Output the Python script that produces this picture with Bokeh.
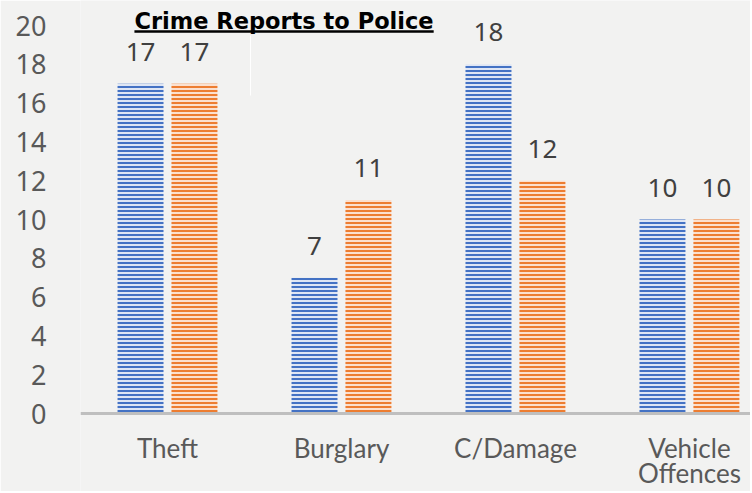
from bokeh.plotting import figure
from bokeh.models import Range1d, FixedTicker, ColumnDataSource
from bokeh.core.properties import value
from bokeh.embed import file_html
from bokeh.resources import INLINE

categories = ["Theft", "Burglary", "C/Damage", "Vehicle"]
category_second_line = ["", "", "", "Offences"]
series_a = [17, 7, 18, 10]
series_b = [17, 11, 12, 10]
y_ticks = [0, 2, 4, 6, 8, 10, 12, 14, 16, 18, 20]
title_text = "Crime Reports to Police"

BG = "#f2f2f1"
GRAY = "#595959"
X_END = 3.851

p = figure(width=750, height=491, output_backend="svg", toolbar_location=None,
           x_range=Range1d(0, X_END), y_range=Range1d(-4.02, 21.289),
           min_border_left=80, min_border_right=0, min_border_top=0, min_border_bottom=0)
p.background_fill_color = BG
p.border_fill_color = BG
p.outline_line_color = None
p.xgrid.visible = False
p.ygrid.visible = False
p.xaxis.visible = False

xs = [i + 0.5 for i in range(len(categories))]
off = 0.155
bw = 0.264
src_a = ColumnDataSource(dict(x=[x - off for x in xs], top=series_a, lab=[str(v) for v in series_a]))
src_b = ColumnDataSource(dict(x=[x + off for x in xs], top=series_b, lab=[str(v) for v in series_b]))

p.vbar(x="x", top="top", width=bw, source=src_a, fill_color="#dfe6f4", line_color=None,
       hatch_pattern="horizontal_line", hatch_color="#4472c4", hatch_scale=4, hatch_weight=2)
p.vbar(x="x", top="top", width=bw, source=src_b, fill_color="#fbe0cf", line_color=None,
       hatch_pattern="horizontal_line", hatch_color="#ed7d31", hatch_scale=4, hatch_weight=2)

for src in (src_a, src_b):
    p.text(x="x", y="top", text="lab", source=src, text_align="center", text_baseline="middle",
           y_offset=-32, text_font=value("Noto Sans"), text_font_size="26px", text_color="#404040")

# manual x axis (line + category labels)
p.segment(x0=[0], y0=[0], x1=[X_END], y1=[0], line_color="#bfbfbf", line_width=3)
cat_src = ColumnDataSource(dict(x=xs, y=[0] * len(xs), l1=categories, l2=category_second_line))
p.text(x="x", y="y", text="l1", source=cat_src, text_align="center", text_baseline="middle",
       y_offset=34, text_font=value("Lato"), text_font_size="26px", text_color=GRAY)
p.text(x="x", y="y", text="l2", source=cat_src, text_align="center", text_baseline="middle",
       y_offset=59, text_font=value("Lato"), text_font_size="26px", text_color=GRAY)

# y axis
p.yaxis.ticker = FixedTicker(ticks=y_ticks)
p.yaxis.axis_line_color = None
p.yaxis.major_tick_line_color = None
p.yaxis.minor_tick_line_color = None
p.yaxis.major_label_text_font = "Noto Sans"
p.yaxis.major_label_text_font_size = "27px"
p.yaxis.major_label_text_color = GRAY
p.yaxis.major_label_standoff = 28

# title with underline
title_src = ColumnDataSource(dict(x=[1.17], y=[20.23], t=[title_text]))
p.text(x="x", y="y", text="t", source=title_src, text_align="center", text_baseline="middle",
       text_font=value("DejaVu Sans"), text_font_style="bold", text_font_size="22.5px", text_color="black")
p.segment(x0=[0.31], y0=[19.69], x1=[2.03], y1=[19.69], line_color="black", line_width=2.5)
p.segment(x0=[0.977], y0=[19.48], x1=[0.977], y1=[16.39], line_color="white", line_width=1)

open("out.html", "w").write(file_html(p, INLINE))
